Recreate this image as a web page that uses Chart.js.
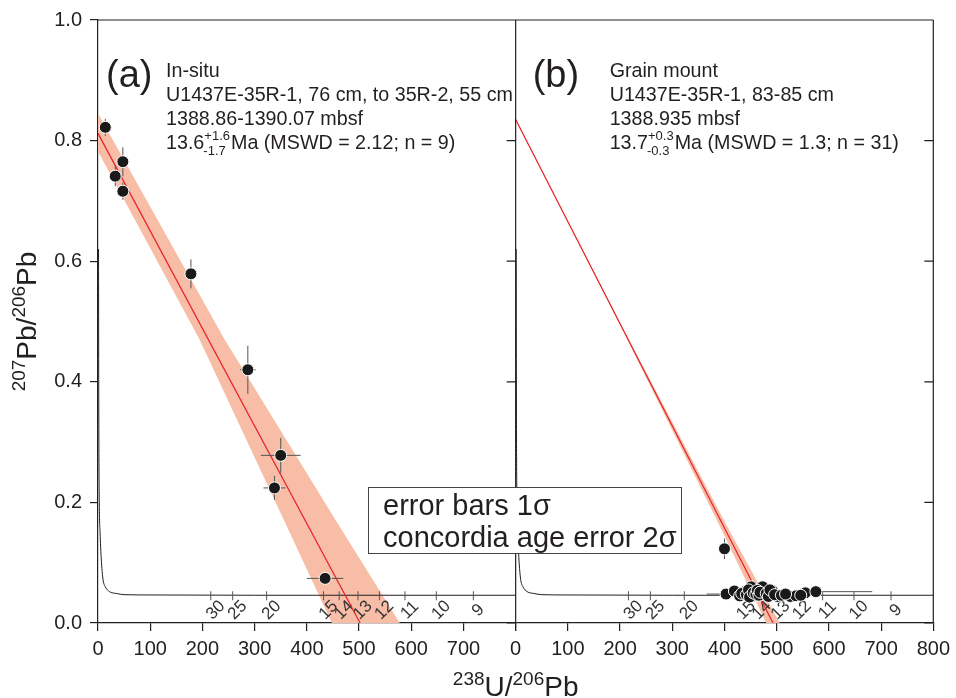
<!DOCTYPE html>
<html>
<head>
<meta charset="utf-8">
<script src="https://cdn.jsdelivr.net/npm/chart.js@4.4.1/dist/chart.umd.min.js"></script>
<style>
  html, body { margin: 0; padding: 0; background: #fff; }
</style>
</head>
<body>
<canvas id="tw-chart" width="956" height="698"></canvas>
<script>
const INK = '#231f20'
const BAND_COLOR = '#f7bda6'
const FIT_COLOR = '#e8202a'
const BAR_COLOR = '#555555'
const FONT = "'Liberation Sans', Arial, sans-serif"

// axes
const xTickValues = [0, 100, 200, 300, 400, 500, 600, 700, 800]
const yTickValues = [0, 0.2, 0.4, 0.6, 0.8, 1.0]

// concordia curve and its age ticks (Ma)
const concordiaX = [1, 1.5, 2.5, 4, 6, 8, 10, 14, 22, 35, 50, 100, 300, 800]
const concordiaY = [0.62, 0.35, 0.2, 0.15, 0.11, 0.085, 0.07, 0.06, 0.052, 0.049, 0.047, 0.0465, 0.046, 0.046]
const concordiaAges = ['30', '25', '20', '15', '14', '13', '12', '11', '10', '9']
const concordiaAgeX = [216, 258, 323, 432, 462, 498, 539, 588, 648, 719]
const concordiaAgeY = [0.046, 0.046, 0.046, 0.046, 0.046, 0.046, 0.046, 0.046, 0.046, 0.046]

// (a) in-situ analyses
const insituX = [14, 33, 47.6, 47.6, 178, 287, 338, 350, 435]
const insituY = [0.822, 0.741, 0.765, 0.716, 0.579, 0.420, 0.224, 0.278, 0.074]
const insituXErr = [2, 3, 3, 3, 4, 15, 21, 38, 35]
const insituYErr = [0.014, 0.017, 0.024, 0.014, 0.024, 0.040, 0.020, 0.029, 0.005]
const insituFitX = [0, 502]
const insituFitY = [0.812, 0]
const insituBandX = [0, 242, 455, 578, 448, 356, 194, 0]
const insituBandY = [0.845, 0.471, 0.171, 0, 0, 0.171, 0.471, 0.782]

// (b) grain mount analyses
const grainX = [400, 403, 419, 429, 438, 451, 457, 473, 475, 492, 502, 526, 537, 555, 575,
                433, 442, 446, 448, 455, 460, 463, 466, 468, 480, 484, 487, 496, 509, 517, 546]
const grainY = [0.123, 0.048, 0.053, 0.045, 0.052, 0.060, 0.045, 0.060, 0.047, 0.053, 0.044, 0.044, 0.045, 0.050, 0.052,
                0.049, 0.047, 0.055, 0.043, 0.050, 0.048, 0.054, 0.046, 0.051, 0.049, 0.044, 0.055, 0.047, 0.046, 0.048, 0.046]
const grainXErr = [8, 37, 10, 8, 10, 8, 9, 8, 10, 9, 8, 10, 9, 10, 108,
                   8, 9, 8, 10, 8, 9, 8, 9, 10, 8, 9, 8, 10, 9, 8, 9]
const grainYErr = [0.017, 0.004, 0.004, 0.004, 0.004, 0.005, 0.004, 0.005, 0.004, 0.004, 0.004, 0.004, 0.004, 0.004, 0.004,
                   0.004, 0.004, 0.004, 0.004, 0.004, 0.004, 0.004, 0.004, 0.004, 0.004, 0.004, 0.004, 0.004, 0.004, 0.004, 0.004]
const grainFitX = [0, 493]
const grainFitY = [0.835, 0]
const grainBandX = [0, 200, 407, 506, 480, 393, 200, 0]
const grainBandY = [0.836, 0.498, 0.157, 0, 0, 0.157, 0.494, 0.834]

const toXY = (xs, ys) => xs.map((x, i) => ({ x: x, y: ys[i] }))

const panelText = [
    { axis: 'xa', tag: '(a)', tagDx: 8, textDx: 68,
      lines: ['In-situ', 'U1437E-35R-1, 76 cm, to 35R-2, 55 cm', '1388.86-1390.07 mbsf'],
      age: '13.6', plus: '+1.6', minus: '-1.7', tail: 'Ma (MSWD = 2.12; n = 9)' },
    { axis: 'xb', tag: '(b)', tagDx: 17, textDx: 94,
      lines: ['Grain mount', 'U1437E-35R-1, 83-85 cm', '1388.935 mbsf'],
      age: '13.7', plus: '+0.3', minus: '-0.3', tail: 'Ma (MSWD = 1.3; n = 31)' }
]

// error bars under the points
const errorBars = {
    id: 'errorBars',
    beforeDatasetDraw(chart, args) {
        const ds = chart.data.datasets[args.index]
        if (!ds.xErr) return
        const xs = chart.scales[ds.xAxisID]
        const ys = chart.scales.y
        const ctx = chart.ctx
        ctx.save()
        ctx.strokeStyle = BAR_COLOR
        ctx.lineWidth = 1
        ds.data.forEach((p, i) => {
            const px = xs.getPixelForValue(p.x)
            const py = ys.getPixelForValue(p.y)
            ctx.beginPath()
            ctx.moveTo(xs.getPixelForValue(p.x - ds.xErr[i]), py)
            ctx.lineTo(xs.getPixelForValue(p.x + ds.xErr[i]), py)
            ctx.moveTo(px, ys.getPixelForValue(p.y - ds.yErr[i]))
            ctx.lineTo(px, ys.getPixelForValue(p.y + ds.yErr[i]))
            ctx.stroke()
        })
        ctx.restore()
    }
}

// concordia age ticks and labels, drawn right after each concordia line
const concordiaTicks = {
    id: 'concordiaTicks',
    afterDatasetDraw(chart, args) {
        const ds = chart.data.datasets[args.index]
        if (!ds.concordia) return
        const ctx = chart.ctx
        const ys = chart.scales.y
        const xs = chart.scales[ds.xAxisID]
        ctx.save()
        ctx.strokeStyle = BAR_COLOR
        ctx.fillStyle = '#333'
        ctx.lineWidth = 1
        ctx.font = '17px ' + FONT
        ctx.textAlign = 'center'
        ctx.textBaseline = 'middle'
        concordiaAges.forEach((age, i) => {
            const px = xs.getPixelForValue(concordiaAgeX[i])
            const py = ys.getPixelForValue(concordiaAgeY[i])
            ctx.beginPath()
            ctx.moveTo(px, py - 4)
            ctx.lineTo(px, py + 5)
            ctx.stroke()
            ctx.save()
            ctx.translate(px + 5, py + 15)
            ctx.rotate(-Math.PI / 4)
            ctx.fillText(age, 0, 0)
            ctx.restore()
        })
        ctx.restore()
    }
}

// frame, inner ticks, texts, axis titles
const decorations = {
    id: 'decorations',
    afterDraw(chart) {
        const ctx = chart.ctx
        const area = chart.chartArea
        const ys = chart.scales.y
        const xa = chart.scales.xa
        const xb = chart.scales.xb
        ctx.save()
        ctx.strokeStyle = INK
        ctx.lineWidth = 1.2
        ctx.beginPath()
        ctx.moveTo(area.left, area.top)
        ctx.lineTo(area.right, area.top)
        ;[xa.right, xb.right].forEach(edge => {
            ctx.moveTo(edge, area.top)
            ctx.lineTo(edge, area.bottom)
            yTickValues.forEach(v => {
                const py = ys.getPixelForValue(v)
                ctx.moveTo(edge, py)
                ctx.lineTo(edge - 9, py)
            })
        })
        ctx.stroke()

        ctx.fillStyle = INK
        ctx.textBaseline = 'alphabetic'
        ctx.textAlign = 'left'
        panelText.forEach(p => {
            const x0 = chart.scales[p.axis].left
            ctx.font = '38px ' + FONT
            ctx.fillText(p.tag, x0 + p.tagDx, area.top + 67)
            ctx.font = '19.7px ' + FONT
            const tx = x0 + p.textDx
            p.lines.forEach((t, i) => ctx.fillText(t, tx, area.top + 57 + i * 24))
            const by = area.top + 129
            ctx.fillText(p.age, tx, by)
            let cx = tx + ctx.measureText(p.age).width
            ctx.font = '13px ' + FONT
            ctx.fillText(p.plus, cx, by - 9)
            ctx.fillText(p.minus, cx - 1, by + 6)
            cx += Math.max(ctx.measureText(p.plus).width, ctx.measureText(p.minus).width) + 1
            ctx.font = '19.7px ' + FONT
            ctx.fillText(p.tail, cx, by)
        })

        // note box
        const bx = area.left + 270, bt = area.top + 467
        ctx.fillStyle = '#fff'
        ctx.fillRect(bx, bt, 313, 66)
        ctx.lineWidth = 1
        ctx.strokeStyle = '#444'
        ctx.strokeRect(bx + 0.5, bt + 0.5, 313, 66)
        ctx.fillStyle = INK
        ctx.font = '29px ' + FONT
        ctx.fillText('error bars 1σ', bx + 15, bt + 28)
        ctx.fillText('concordia age error 2σ', bx + 15, bt + 60)

        // axis titles with superscripts
        const rich = (parts, x, y) => {
            let cx = x
            parts.forEach(([t, sup]) => {
                ctx.font = (sup ? '19px ' : '28px ') + FONT
                ctx.fillText(t, cx, sup ? y - 11 : y)
                cx += ctx.measureText(t).width
            })
            return cx - x
        }
        const measure = parts => parts.reduce((w, [t, sup]) => {
            ctx.font = (sup ? '19px ' : '28px ') + FONT
            return w + ctx.measureText(t).width
        }, 0)
        const xTitle = [['238', 1], ['U/', 0], ['206', 1], ['Pb', 0]]
        const yTitle = [['207', 1], ['Pb/', 0], ['206', 1], ['Pb', 0]]
        const cxMid = (area.left + area.right) / 2
        rich(xTitle, cxMid - measure(xTitle) / 2, 696)
        ctx.save()
        ctx.translate(36, (area.top + area.bottom) / 2)
        ctx.rotate(-Math.PI / 2)
        rich(yTitle, -measure(yTitle) / 2, 0)
        ctx.restore()
        ctx.restore()
    }
}

const tickFont = { family: FONT, size: 20 }
const xAxis = (showLast) => ({
    type: 'linear',
    position: 'bottom',
    stack: 'panels',
    stackWeight: 1,
    min: 0,
    max: 800,
    afterBuildTicks: s => { s.ticks = xTickValues.map(v => ({ value: v })) },
    ticks: {
        font: tickFont, color: INK, padding: 6, maxRotation: 0, autoSkip: false,
        callback: v => (v === 800 && !showLast) ? '' : String(v)
    },
    grid: { drawOnChartArea: false, drawTicks: true, tickLength: 8, color: INK, lineWidth: 1.2 },
    border: { display: true, color: INK, width: 1.2 },
    afterFit: s => { s.height = 75 }
})

new Chart(document.getElementById('tw-chart'), {
    type: 'scatter',
    data: {
        datasets: [
            { label: 'in-situ', xAxisID: 'xa', data: toXY(insituX, insituY), xErr: insituXErr, yErr: insituYErr,
              pointRadius: 6, pointBackgroundColor: '#1a1a1a', pointBorderColor: '#fff', pointBorderWidth: 1, order: 0 },
            { label: 'grain', xAxisID: 'xb', data: toXY(grainX, grainY), xErr: grainXErr, yErr: grainYErr,
              pointRadius: 6, pointBackgroundColor: '#1a1a1a', pointBorderColor: '#fff', pointBorderWidth: 1, order: 0 },
            { label: 'fit a', xAxisID: 'xa', data: toXY(insituFitX, insituFitY), showLine: true,
              borderColor: FIT_COLOR, borderWidth: 1.2, pointRadius: 0, order: 1 },
            { label: 'fit b', xAxisID: 'xb', data: toXY(grainFitX, grainFitY), showLine: true,
              borderColor: FIT_COLOR, borderWidth: 1.2, pointRadius: 0, order: 1 },
            { label: 'concordia a', xAxisID: 'xa', data: toXY(concordiaX, concordiaY), showLine: true, concordia: true,
              cubicInterpolationMode: 'monotone', borderColor: INK, borderWidth: 1, pointRadius: 0, order: 2 },
            { label: 'concordia b', xAxisID: 'xb', data: toXY(concordiaX, concordiaY), showLine: true, concordia: true,
              cubicInterpolationMode: 'monotone', borderColor: INK, borderWidth: 1, pointRadius: 0, order: 2 },
            { label: 'band a', xAxisID: 'xa', data: toXY(insituBandX, insituBandY), showLine: true, fill: 'shape',
              backgroundColor: BAND_COLOR, borderColor: 'rgba(0,0,0,0)', borderWidth: 0, pointRadius: 0, order: 3 },
            { label: 'band b', xAxisID: 'xb', data: toXY(grainBandX, grainBandY), showLine: true, fill: 'shape',
              backgroundColor: BAND_COLOR, borderColor: 'rgba(0,0,0,0)', borderWidth: 0, pointRadius: 0, order: 3 }
        ]
    },
    options: {
        responsive: false,
        animation: false,
        devicePixelRatio: 1,
        layout: { padding: { top: 20, right: 18, left: 0, bottom: 0 } },
        plugins: { legend: { display: false }, tooltip: { enabled: false } },
        scales: {
            xa: xAxis(false),
            xb: xAxis(true),
            y: {
                type: 'linear',
                position: 'left',
                min: 0,
                max: 1,
                afterBuildTicks: s => { s.ticks = yTickValues.map(v => ({ value: v })) },
                ticks: { font: tickFont, color: INK, padding: 8, callback: v => v.toFixed(1) },
                grid: { drawOnChartArea: false, drawTicks: true, tickLength: 8, color: INK, lineWidth: 1.2 },
                border: { display: true, color: INK, width: 1.2 },
                afterFit: s => { s.width = 98 }
            }
        }
    },
    plugins: [errorBars, concordiaTicks, decorations]
})
</script>
</body>
</html>
